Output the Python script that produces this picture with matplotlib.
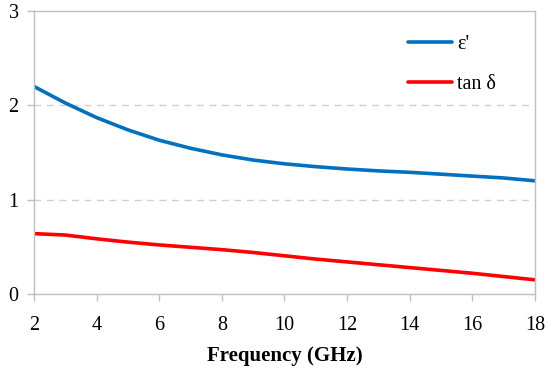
import matplotlib
matplotlib.use('Agg')
import matplotlib.pyplot as plt

# values
freq = [2, 3, 4, 5, 6, 7, 8, 9, 10, 11, 12, 13, 14, 15, 16, 17, 18]
eps = [2.20, 2.025, 1.87, 1.74, 1.63, 1.545, 1.475, 1.42, 1.38, 1.35, 1.325,
       1.305, 1.29, 1.27, 1.25, 1.23, 1.20]
tand = [0.64, 0.625, 0.585, 0.55, 0.52, 0.495, 0.47, 0.44, 0.405, 0.37, 0.34,
        0.31, 0.28, 0.25, 0.22, 0.185, 0.15]
xticks = [2, 4, 6, 8, 10, 12, 14, 16, 18]
yticks = [0, 1, 2, 3]

plt.rcParams['font.family'] = ['Liberation Serif', 'DejaVu Serif']

fig = plt.figure(figsize=(5.5, 3.72), dpi=100)
ax = fig.add_axes([0.0618, 0.2097, 0.9109, 0.7607])

ax.plot(freq, eps, color='#0070C0', lw=2.6, label="ε'", solid_capstyle='round')
ax.plot(freq, tand, color='#FF0000', lw=2.6, label='tan δ', solid_capstyle='round')

ax.set_xlim(2, 18)
ax.set_ylim(0, 3)
ax.set_xticks(xticks)
ax.set_yticks(yticks)
for y in [1, 2]:
    ax.axhline(y, color='#D0D0D0', lw=1, ls=(0, (5, 4)), zorder=0)

for s in ax.spines.values():
    s.set_color('#BFBFBF')
    s.set_linewidth(1)
ax.tick_params(colors='#BFBFBF', labelcolor='black', labelsize=14.5, length=5, width=1)
ax.tick_params(axis='x', pad=11)
ax.tick_params(axis='y', pad=6)

ax.set_xlabel('Frequency (GHz)', fontsize=15, fontweight='bold', labelpad=8)

ax.legend(loc='upper left', bbox_to_anchor=(0.746, 0.915), frameon=False,
          borderpad=0, borderaxespad=0,
          fontsize=14.5, handlelength=2.2, handletextpad=0.25, labelspacing=1.05)

fig.savefig('out.png', dpi=100)
